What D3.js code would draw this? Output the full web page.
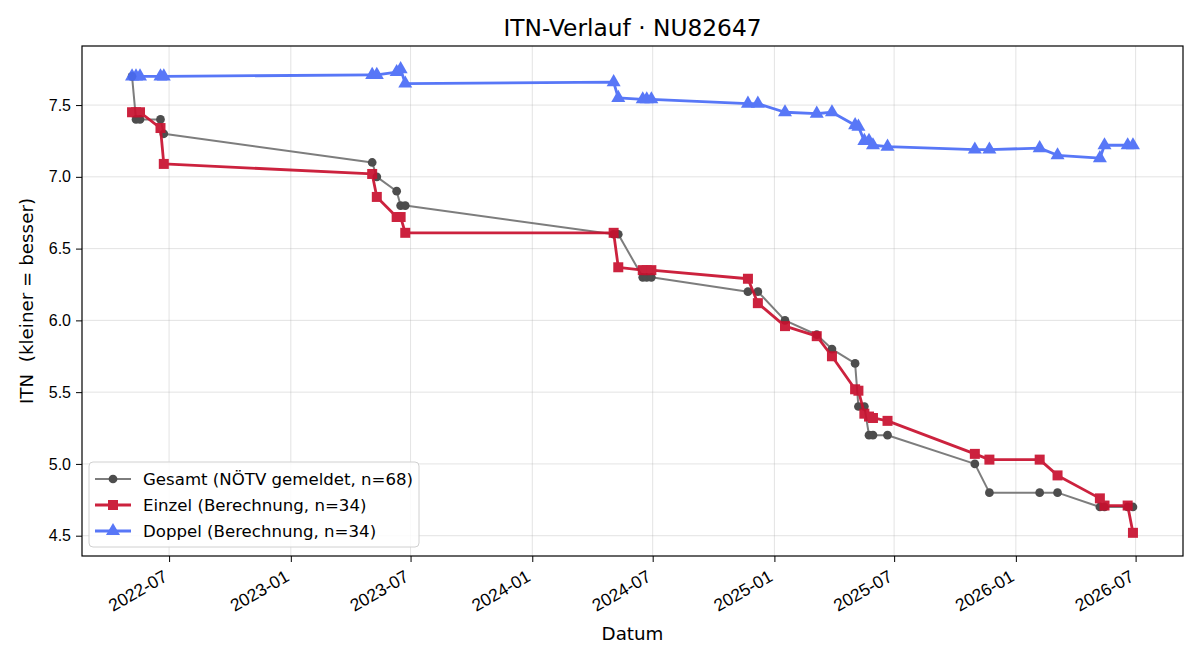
<!DOCTYPE html>
<html>
<head>
<meta charset="utf-8">
<script src="https://cdn.jsdelivr.net/npm/d3@7"></script>
<style>
  body { margin: 0; background: #fff; }
  svg { font-family: "DejaVu Sans", sans-serif; }
</style>
</head>
<body>
<svg width="1200" height="660"></svg>
<script>
// match dates (shared by all three series)
var dates = ["2022-05-06","2022-05-12","2022-05-18","2022-06-18","2022-06-23",
  "2023-05-04","2023-05-11","2023-06-10","2023-06-16","2023-06-23",
  "2024-05-03","2024-05-10","2024-06-16","2024-06-22","2024-06-29",
  "2024-11-22","2024-12-07","2025-01-17","2025-03-06","2025-03-29",
  "2025-05-03","2025-05-08","2025-05-17","2025-05-24","2025-05-30","2025-06-21",
  "2025-10-31","2025-11-22","2026-02-06","2026-03-05","2026-05-08","2026-05-15",
  "2026-06-19","2026-06-27"];

var gesamt = [7.7,7.4,7.4,7.4,7.3, 7.1,7.0,6.9,6.8,6.8, 6.6,6.6,6.3,6.3,6.3,
  6.2,6.2,6.0,5.9,5.8, 5.7,5.4,5.4,5.2,5.2,5.2, 5.0,4.8,4.8,4.8,4.7,4.7, 4.7,4.7];

var einzel = [7.45,7.45,7.45,7.34,7.09, 7.02,6.86,6.72,6.72,6.61, 6.61,6.37,6.35,6.35,6.35,
  6.29,6.12,5.96,5.89,5.75, 5.52,5.51,5.35,5.33,5.32,5.30, 5.07,5.03,5.03,4.92,4.76,4.71, 4.71,4.52];

var doppel = [7.70,7.70,7.70,7.70,7.70, 7.71,7.71,7.73,7.75,7.65, 7.66,7.55,7.54,7.54,7.54,
  7.51,7.51,7.45,7.44,7.45, 7.36,7.35,7.25,7.25,7.22,7.21, 7.19,7.19,7.20,7.15,7.13,7.22, 7.22,7.22];

var yTicks = [4.5,5.0,5.5,6.0,6.5,7.0,7.5];

var parse = d3.timeParse("%Y-%m-%d");
var dd = dates.map(parse);

var pL = 82, pR = 1183, pT = 46, pB = 556;
var svg = d3.select("svg");

// 5% padding like matplotlib
var xe = d3.extent(dd), xspan = xe[1] - xe[0];
var x = d3.scaleTime()
  .domain([new Date(+xe[0] - xspan * 0.05), new Date(+xe[1] + xspan * 0.05)])
  .range([pL, pR]);

var allY = gesamt.concat(einzel, doppel);
var ye = d3.extent(allY), yspan = ye[1] - ye[0];
var y = d3.scaleLinear()
  .domain([ye[0] - yspan * 0.05, ye[1] + yspan * 0.05])
  .range([pB, pT]);

var xTicks = x.ticks(d3.timeMonth.every(6));

// grid
svg.append("g").selectAll("line").data(xTicks).enter().append("line")
  .attr("x1", function(d) { return x(d); }).attr("x2", function(d) { return x(d); })
  .attr("y1", pT).attr("y2", pB)
  .attr("stroke", "#b0b0b0").attr("stroke-opacity", 0.35).attr("stroke-width", 1);
svg.append("g").selectAll("line").data(yTicks).enter().append("line")
  .attr("y1", function(d) { return y(d); }).attr("y2", function(d) { return y(d); })
  .attr("x1", pL).attr("x2", pR)
  .attr("stroke", "#b0b0b0").attr("stroke-opacity", 0.35).attr("stroke-width", 1);

// axes
var xAxis = svg.append("g").attr("transform", "translate(0," + pB + ")")
  .call(d3.axisBottom(x).tickValues(xTicks).tickFormat(d3.timeFormat("%Y-%m")).tickSize(6).tickSizeOuter(0));
xAxis.selectAll("text")
  .attr("font-size", 17.5).attr("fill", "#000")
  .attr("text-anchor", "end")
  .attr("dy", null).attr("y", null)
  .attr("transform", "translate(-1,24) rotate(-30)");

var yAxis = svg.append("g").attr("transform", "translate(" + pL + ",0)")
  .call(d3.axisLeft(y).tickValues(yTicks).tickFormat(d3.format(".1f")).tickSize(6).tickSizeOuter(0));
yAxis.selectAll("text").attr("font-size", 16).attr("fill", "#000").attr("x", -11);
svg.selectAll(".domain").remove();
svg.selectAll(".tick line").attr("stroke", "#000");

// series
var series = [
  { name: "Gesamt (NÖTV gemeldet, n=68)", vals: gesamt, line: "#707070", fill: "#3a3a3a", lw: 2, shape: d3.symbolCircle, size: 60, op: 0.9 },
  { name: "Einzel (Berechnung, n=34)", vals: einzel, line: "#c8102e", fill: "#c8102e", lw: 2.8, shape: d3.symbolSquare, size: 100, op: 0.92 },
  { name: "Doppel (Berechnung, n=34)", vals: doppel, line: "#4a6cf7", fill: "#4a6cf7", lw: 2.8, shape: d3.symbolTriangle, size: 85, op: 0.92 }
];

var line = d3.line()
  .x(function(d) { return x(d[0]); })
  .y(function(d) { return y(d[1]); });

var plot = svg.append("g");
series.forEach(function(s) {
  var pts = dd.map(function(d, i) { return [d, s.vals[i]]; });
  var g = plot.append("g").attr("opacity", s.op);
  g.append("path").datum(pts)
    .attr("d", line).attr("fill", "none")
    .attr("stroke", s.line).attr("stroke-width", s.lw).attr("stroke-linejoin", "round");
  g.selectAll("path.m").data(pts).enter().append("path")
    .attr("class", "m")
    .attr("d", d3.symbol().type(s.shape).size(s.size))
    .attr("transform", function(d) { return "translate(" + x(d[0]) + "," + y(d[1]) + ")"; })
    .attr("fill", s.fill);
});

// frame
svg.append("rect").attr("x", pL).attr("y", pT)
  .attr("width", pR - pL).attr("height", pB - pT)
  .attr("fill", "none").attr("stroke", "#000").attr("stroke-width", 1.2);

// titles
svg.append("text").attr("x", (pL + pR) / 2).attr("y", 36)
  .attr("text-anchor", "middle").attr("font-size", 23.3).text("ITN-Verlauf · NU82647");
svg.append("text").attr("x", (pL + pR) / 2).attr("y", 640)
  .attr("text-anchor", "middle").attr("font-size", 18.3).text("Datum");
svg.append("text").attr("transform", "translate(33," + ((pT + pB) / 2) + ") rotate(-90)")
  .attr("text-anchor", "middle").attr("font-size", 18.3).attr("xml:space", "preserve")
  .text("ITN  (kleiner = besser)");

// legend
var lg = svg.append("g").attr("transform", "translate(89,462)");
lg.append("rect").attr("width", 330).attr("height", 85).attr("rx", 4)
  .attr("fill", "#fff").attr("fill-opacity", 0.85).attr("stroke", "#d0d0d0");
series.forEach(function(s, i) {
  var cy = 17 + i * 26;
  var row = lg.append("g").attr("opacity", s.op);
  row.append("line").attr("x1", 6).attr("x2", 42).attr("y1", cy).attr("y2", cy)
    .attr("stroke", s.line).attr("stroke-width", s.lw);
  row.append("path").attr("d", d3.symbol().type(s.shape).size(s.size))
    .attr("transform", "translate(24," + cy + ")").attr("fill", s.fill);
  lg.append("text").attr("x", 54).attr("y", cy + 6).attr("font-size", 16.6).text(s.name);
});
</script>
</body>
</html>
